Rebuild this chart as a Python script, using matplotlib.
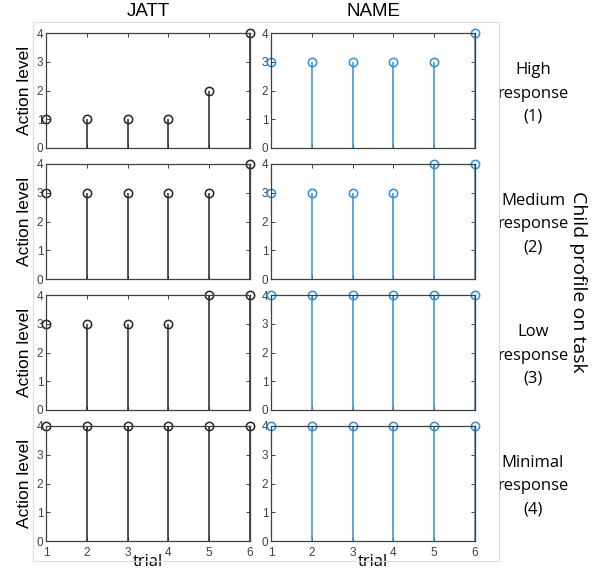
import matplotlib.pyplot as plt
from matplotlib.patches import Rectangle
import numpy as np

trials = [1, 2, 3, 4, 5, 6]
jatt = [[1, 1, 1, 1, 2, 4],
        [3, 3, 3, 3, 3, 4],
        [3, 3, 3, 3, 4, 4],
        [4, 4, 4, 4, 4, 4]]
name = [[3, 3, 3, 3, 3, 4],
        [3, 3, 3, 3, 4, 4],
        [4, 4, 4, 4, 4, 4],
        [4, 4, 4, 4, 4, 4]]
profiles = ['High\nresponse\n(1)', 'Medium\nresponse\n(2)',
            'Low\nresponse\n(3)', 'Minimal\nresponse\n(4)']
columns = ['JATT', 'NAME']
colors = ['#262626', '#2f8fd8']

W, H = 599, 575
fig = plt.figure(figsize=(W / 100, H / 100), dpi=100)

# pixel boxes of each panel (x=1..6, y=0..4)
lefts = [46, 271]
width = 204
tops = [33, 164, 295, 426]
height = 115

# faint frame of the pasted figures
fig.add_artist(Rectangle((33 / W, 1 - 561 / H), (499 - 33) / W, (561 - 22) / H,
                         transform=fig.transFigure, fill=False,
                         edgecolor='#dddddd', lw=0.8))

for r in range(4):
    for c in range(2):
        ax = fig.add_axes([lefts[c] / W, 1 - (tops[r] + height) / H,
                           width / W, height / H])
        vals = jatt[r] if c == 0 else name[r]
        ml, sl, bl = ax.stem(trials, vals, linefmt='-', markerfmt='o', basefmt=' ')
        plt.setp(sl, color=colors[c], lw=1.1)
        plt.setp(ml, markerfacecolor='none', markeredgecolor=colors[c],
                 markersize=6, markeredgewidth=1.1, clip_on=False)
        ax.set_xlim(1, 6)
        ax.set_ylim(0, 4)
        ax.set_yticks([0, 1, 2, 3, 4])
        ax.set_xticks(trials)
        ax.tick_params(direction='in', length=3, width=0.7, top=True, right=True,
                       labelsize=8.5, labelcolor='#404040', color='#404040', pad=2)
        for lab in ax.get_xticklabels() + ax.get_yticklabels():
            lab.set_family('Liberation Sans')
        for s in ax.spines.values():
            s.set_color('#404040')
            s.set_linewidth(0.9)
        if r < 3:
            ax.set_xticklabels([])
        else:
            ax.tick_params(axis='x', pad=4)
            ax.set_xlabel('trial', fontsize=12, family='Open Sans', labelpad=-3)
        if c == 0:
            ax.set_ylabel('Action level', fontsize=12.5, family='Liberation Sans',
                          labelpad=3)
        if r == 0:
            ax.set_title(columns[c], fontsize=13.5, family='Liberation Sans', pad=12)
        if c == 1:
            ax.text(533 / W, 1 - (tops[r] + height / 2 + 3) / H, profiles[r],
                    transform=fig.transFigure, ha='center', va='center',
                    fontsize=12, family='Open Sans', linespacing=1.6)

fig.text(578 / W, 1 - 282 / H, 'Child profile on task', rotation=-90,
         ha='center', va='center', fontsize=14, family='Open Sans')

fig.savefig('out.png', dpi=100)
